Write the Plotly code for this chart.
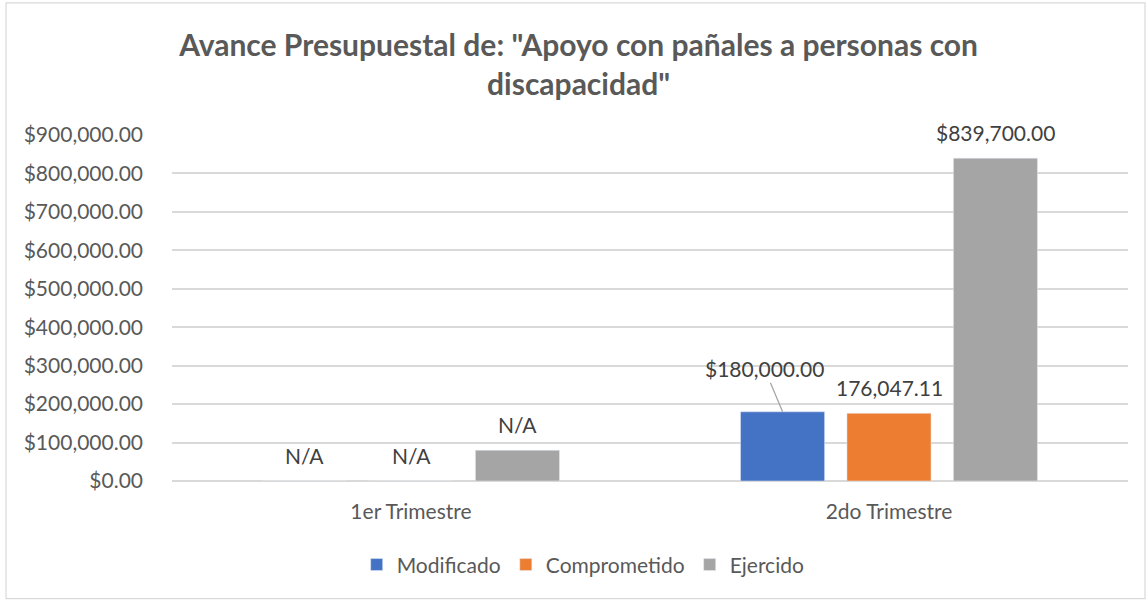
import plotly.graph_objects as go

categories = ["1er Trimestre", "2do Trimestre"]
modificado = [0, 180000]
comprometido = [0, 176047.11]
ejercido = [80000, 839700]
lbl_modificado = ["N/A", "$180,000.00"]
lbl_comprometido = ["N/A", "176,047.11"]
lbl_ejercido = ["N/A", "$839,700.00"]
y_ticks = list(range(0, 900001, 100000))
y_tick_labels = [f"${v:,.2f}" for v in y_ticks]

FONT = "Lato"
GREY = "#595959"
LBL = "#404040"
BARGAP = 0.332
BGGAP = 0.21

series = [
    ("Modificado", modificado, lbl_modificado, "#4472C4"),
    ("Comprometido", comprometido, lbl_comprometido, "#ED7D31"),
    ("Ejercido", ejercido, lbl_ejercido, "#A5A5A5"),
]

fig = go.Figure()
for name, vals, lbls, color in series:
    fig.add_trace(go.Bar(
        x=categories, y=vals, name=name, marker_color=color,
        hoverinfo="skip",
    ))

# data labels placed above each bar
pitch = (1 - BARGAP) / len(series)
for si, (name, vals, lbls, color) in enumerate(series):
    for ci, (v, t) in enumerate(zip(vals, lbls)):
        xpos = ci + (si - (len(series) - 1) / 2) * pitch
        if name == "Modificado" and ci == 1:
            fig.add_annotation(
                x=xpos, y=v, xref="x", yref="y", text=t,
                showarrow=True, arrowhead=0, arrowcolor="#A6A6A6",
                arrowwidth=1.3, ax=-18, ay=-43,
                font=dict(family=FONT, size=21, color=LBL),
            )
        else:
            fig.add_annotation(
                x=xpos, y=v, xref="x", yref="y", text=t,
                showarrow=False, yanchor="middle", yshift=26,
                font=dict(family=FONT, size=21, color=LBL),
            )

fig.add_shape(type="rect", xref="paper", yref="paper",
              x0=-0.1736, x1=1.0178, y0=-0.340, y1=1.382,
              line=dict(color="#D9D9D9", width=1.2), fillcolor="rgba(0,0,0,0)")

fig.update_layout(
    width=1148, height=601,
    margin=dict(l=172, r=20, t=135, b=120),
    paper_bgcolor="white", plot_bgcolor="white",
    barmode="group", bargap=BARGAP, bargroupgap=BGGAP,
    title=dict(
        text='Avance Presupuestal de: "Apoyo con pañales a personas con<br>discapacidad"',
        x=0.504, xref="container", xanchor="center",
        y=0.906, yref="container", yanchor="middle",
        font=dict(family=FONT, size=30, color=GREY, weight="bold"),
    ),
    legend=dict(orientation="h", x=0.508, xanchor="center", xref="container",
                y=0.06, yref="container", yanchor="middle",
                font=dict(family=FONT, size=21, color=GREY),
                itemwidth=30, traceorder="normal"),
    showlegend=True,
)
fig.update_yaxes(range=[0, 900000], tickvals=y_ticks, ticktext=y_tick_labels,
                 showgrid=True, gridcolor="#D9D9D9", gridwidth=1.5,
                 zeroline=True, zerolinecolor="#D9D9D9", zerolinewidth=1.5,
                 showline=False, ticks="", ticklabelstandoff=28,
                 tickfont=dict(family=FONT, size=21, color=GREY))
fig.update_xaxes(showline=False, ticks="", ticklabelstandoff=16,
                 tickfont=dict(family=FONT, size=21, color=GREY))

fig.write_html("out.html", config={"displayModeBar": False},
               post_script="document.body.style.margin='0';")
